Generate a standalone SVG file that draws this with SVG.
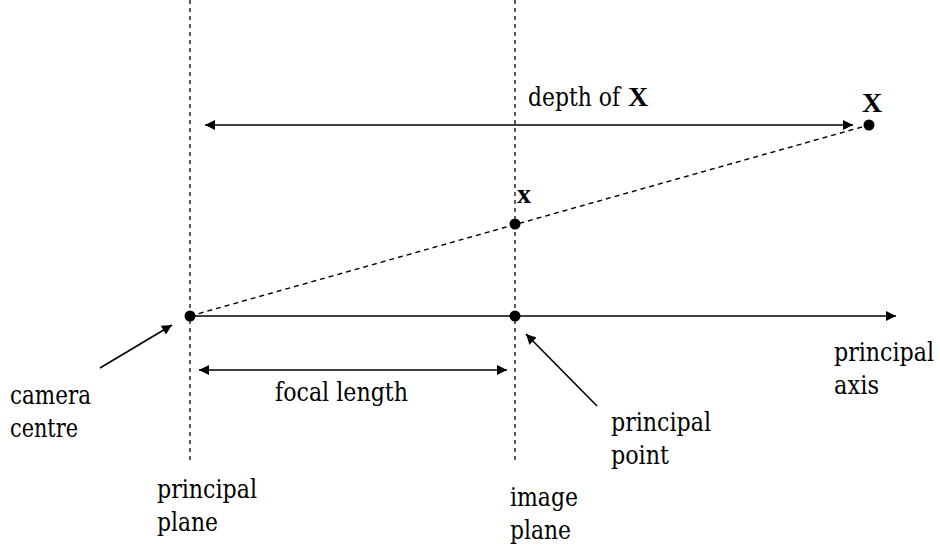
<svg xmlns="http://www.w3.org/2000/svg" width="940" height="545" viewBox="0 0 940 545">
<style>
text{fill:#000;font-family:'DejaVu Serif','Liberation Serif',serif;font-size:26px}
.b{font-family:'Liberation Serif','Times New Roman',serif;font-weight:700;font-size:28px}
.plane{stroke:#333;stroke-width:1.6;stroke-dasharray:4 4;fill:none}
.ray{stroke:#000;stroke-width:1.4;stroke-dasharray:5 4;fill:none}
.ln{stroke:#000;stroke-width:1.6;fill:none}
.dot{fill:#000}
</style>
<defs>
<marker id="ah" viewBox="0 0 10 10" refX="10" refY="5" markerWidth="14" markerHeight="10" markerUnits="userSpaceOnUse" orient="auto-start-reverse">
<path d="M0,0 L10,5 L0,10 Z" fill="#000"/>
</marker>
</defs>
<g id="connectors">
<line class="plane" x1="190" y1="0" x2="190" y2="461"/>
<line class="plane" x1="515" y1="0" x2="515" y2="462"/>
<line class="ray" x1="190" y1="316" x2="869" y2="125"/>
<line class="ln" x1="190" y1="316" x2="896" y2="316" marker-end="url(#ah)"/>
<line class="ln" x1="205" y1="125" x2="853" y2="125" marker-start="url(#ah)" marker-end="url(#ah)"/>
<line class="ln" x1="199" y1="370" x2="507" y2="370" marker-start="url(#ah)" marker-end="url(#ah)"/>
<line class="ln" x1="100" y1="368" x2="172" y2="325" marker-end="url(#ah)"/>
<line class="ln" x1="597" y1="406" x2="526" y2="334" marker-end="url(#ah)"/>
</g>
<g id="camera-centre"><circle class="dot" cx="190" cy="316" r="5.5"/><text x="10" y="404" textLength="81" lengthAdjust="spacingAndGlyphs">camera</text><text x="10" y="437" textLength="68" lengthAdjust="spacingAndGlyphs">centre</text></g>
<g id="principal-point"><circle class="dot" cx="515" cy="316" r="5.5"/><text x="611" y="431" textLength="100" lengthAdjust="spacingAndGlyphs">principal</text><text x="611" y="464" textLength="58" lengthAdjust="spacingAndGlyphs">point</text></g>
<g id="image-point"><circle class="dot" cx="515" cy="224" r="5.5"/><text class="b" x="517" y="203">x</text></g>
<g id="world-point"><circle class="dot" cx="869" cy="125" r="5.5"/><text class="b" x="862" y="112">X</text></g>
<g id="depth-label"><text x="528" y="106" textLength="92" lengthAdjust="spacingAndGlyphs">depth of</text><text class="b" x="628" y="106">X</text></g>
<g id="focal-label"><text x="275" y="401" textLength="133" lengthAdjust="spacingAndGlyphs">focal length</text></g>
<g id="axis-label"><text x="834" y="361" textLength="100" lengthAdjust="spacingAndGlyphs">principal</text><text x="834" y="394" textLength="45" lengthAdjust="spacingAndGlyphs">axis</text></g>
<g id="principal-plane-label"><text x="157" y="498" textLength="100" lengthAdjust="spacingAndGlyphs">principal</text><text x="157" y="531" textLength="61" lengthAdjust="spacingAndGlyphs">plane</text></g>
<g id="image-plane-label"><text x="510" y="506" textLength="68" lengthAdjust="spacingAndGlyphs">image</text><text x="510" y="539" textLength="61" lengthAdjust="spacingAndGlyphs">plane</text></g>
</svg>
